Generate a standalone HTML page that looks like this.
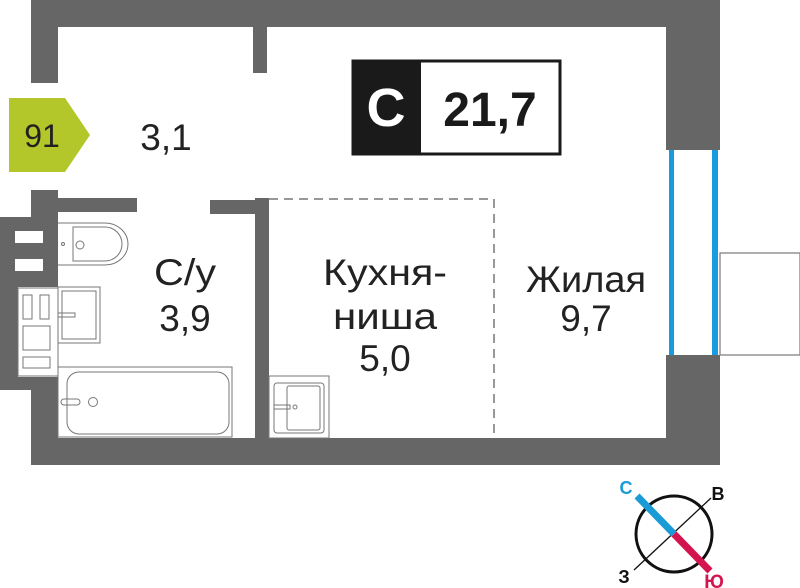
<!DOCTYPE html>
<html><head><meta charset="utf-8"><style>
html,body{margin:0;padding:0;background:#fff;}
svg{display:block;}
text{font-family:"Liberation Sans","DejaVu Sans",sans-serif;fill:#222;}
</style></head><body>
<svg width="800" height="588" viewBox="0 0 800 588" xmlns="http://www.w3.org/2000/svg">
<g fill="#666">
  <rect x="31" y="0" width="689" height="27"/>
  <rect x="31" y="0" width="27" height="83"/>
  <rect x="253" y="27" width="14" height="46"/>
  <rect x="666" y="0" width="54" height="150"/>
  <rect x="666" y="355" width="54" height="110"/>
  <rect x="31" y="438" width="689" height="27"/>
  <rect x="31" y="190" width="27" height="30"/>
  <rect x="58" y="198" width="79" height="14"/>
  <rect x="210" y="200" width="57" height="14"/>
  <rect x="255" y="198" width="14" height="242"/>
  <rect x="0" y="217" width="58" height="70"/>
  <rect x="0" y="287" width="18" height="100"/>
  <rect x="0" y="377" width="58" height="13"/>
  <rect x="31" y="390" width="27" height="50"/>
</g>
<g fill="#fff">
  <rect x="15" y="231" width="28" height="12"/>
  <rect x="15" y="259" width="28" height="12"/>
</g>
<rect x="669" y="150" width="5" height="205" fill="#1a9be0"/>
<rect x="712" y="150" width="6" height="205" fill="#1a9be0"/>
<rect x="720" y="253" width="80" height="102" fill="none" stroke="#777" stroke-width="1.2"/>
<g fill="none" stroke="#777" stroke-width="1">
  <rect x="18" y="288" width="40" height="88"/>
  <rect x="23" y="295" width="9" height="24"/>
  <rect x="40" y="295" width="9" height="24"/>
  <rect x="23" y="326" width="27" height="24"/>
  <rect x="23" y="357" width="27" height="11"/>
  <path d="M58 223 H105 A23 21 0 0 1 105 265 H58"/>
  <path d="M73 227 H105 A17 17 0 0 1 105 261 H73 Z"/>
  <rect x="76" y="241" width="8" height="8" rx="4"/>
  <circle cx="63" cy="244" r="1.5"/>
  <rect x="58" y="287" width="42" height="56"/>
  <rect x="62" y="291" width="34" height="48"/>
  <rect x="58" y="313" width="17" height="4"/>
  <rect x="58" y="367" width="174" height="70"/>
  <rect x="67" y="372" width="162" height="62" rx="12"/>
  <rect x="61" y="399" width="19" height="6" rx="3"/>
  <circle cx="93" cy="402" r="4.5"/>
  <rect x="269" y="376" width="60" height="62"/>
  <rect x="274" y="383" width="50" height="50" rx="3"/>
  <rect x="287" y="386" width="33" height="44" rx="2"/>
  <rect x="274" y="405" width="16" height="4"/>
  <circle cx="295" cy="407" r="2"/>
</g>
<path d="M269 199 H494 V438" fill="none" stroke="#777" stroke-width="1.5" stroke-dasharray="9,6"/>
<polygon points="9,98 65,98 90,135 65,172 9,172" fill="#b3c72a"/>
<text x="42" y="147" font-size="32" text-anchor="middle">91</text>
<text x="166" y="150" font-size="37" text-anchor="middle">3,1</text>
<rect x="353" y="61" width="207" height="93" fill="#fff" stroke="#1a1a1a" stroke-width="3"/>
<rect x="352" y="60" width="69" height="95" fill="#1a1a1a"/>
<text x="386" y="126" font-size="54" font-weight="bold" text-anchor="middle" style="fill:#fff">C</text>
<text x="490" y="126" font-size="48" font-weight="bold" text-anchor="middle" style="fill:#1a1a1a">21,7</text>
<text x="185" y="285" font-size="37" text-anchor="middle" textLength="62" lengthAdjust="spacingAndGlyphs">С/у</text>
<text x="185" y="331" font-size="37" text-anchor="middle">3,9</text>
<text x="385" y="285" font-size="37" text-anchor="middle" textLength="124" lengthAdjust="spacingAndGlyphs">Кухня-</text>
<text x="385" y="329" font-size="37" text-anchor="middle" textLength="104" lengthAdjust="spacingAndGlyphs">ниша</text>
<text x="385" y="371" font-size="37" text-anchor="middle">5,0</text>
<text x="586" y="292" font-size="37" text-anchor="middle" textLength="120" lengthAdjust="spacingAndGlyphs">Жилая</text>
<text x="586" y="331" font-size="37" text-anchor="middle">9,7</text>
<circle cx="674" cy="534" r="38" fill="none" stroke="#111" stroke-width="3"/>
<line x1="634" y1="570" x2="711" y2="498" stroke="#111" stroke-width="1.3"/>
<line x1="637" y1="496" x2="674" y2="534" stroke="#1a9bd6" stroke-width="7"/>
<line x1="674" y1="534" x2="710" y2="571" stroke="#d4144f" stroke-width="7"/>
<text x="626" y="494" font-size="18" font-weight="bold" text-anchor="middle" style="fill:#1a9bd6">С</text>
<text x="718" y="500" font-size="18" font-weight="bold" text-anchor="middle" style="fill:#111">В</text>
<text x="624" y="583" font-size="18" font-weight="bold" text-anchor="middle" style="fill:#111">З</text>
<text x="714" y="588" font-size="19" font-weight="bold" text-anchor="middle" style="fill:#d4144f">Ю</text>
</svg>
</body></html>
